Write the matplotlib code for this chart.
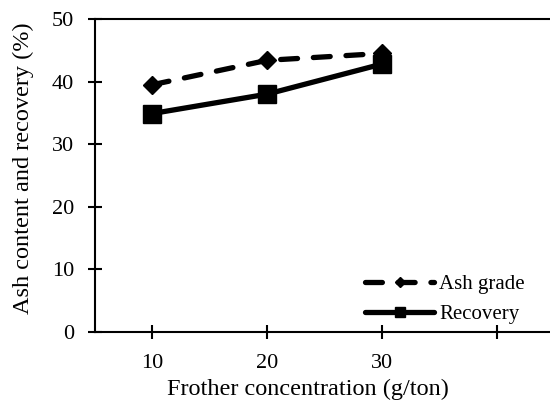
import matplotlib.pyplot as plt

conc = [10, 20, 30]
ash_grade = [39.5, 43.4, 44.5]
recovery = [34.9, 38.0, 42.8]
x_ticks = [10, 20, 30, 40]
x_labels = ["10", "20", "30", ""]
y_ticks = [0, 10, 20, 30, 40, 50]

plt.rcParams["font.family"] = ["Liberation Serif", "DejaVu Serif"]

fig = plt.figure(figsize=(5.5, 4.07), dpi=100)
ax = fig.add_axes([95 / 550, 1 - 332 / 407, 459 / 550, 313 / 407])

ax.plot(conc, ash_grade, color="black", lw=3.8, ls=(0, (3.2, 3.0)),
        dash_capstyle="round", marker="D", ms=9, label="Ash grade")
ax.plot(conc, recovery, color="black", lw=3.8, solid_capstyle="round",
        marker="s", ms=13.5, label="Recovery")

ax.set_xlim(5, 45)
ax.set_ylim(0, 50)
ax.set_xticks(x_ticks)
ax.set_xticklabels(x_labels)
ax.set_yticks(y_ticks)
for s in ax.spines.values():
    s.set_linewidth(1.5)
ax.tick_params(direction="inout", length=10, width=1.5, labelsize=16)
ax.tick_params(axis="x", pad=11)
ax.tick_params(axis="y", pad=10)

ax.set_xlabel("Frother concentration (g/ton)", fontsize=17.5)
ax.set_ylabel("Ash content and recovery (%)", fontsize=17.5)
ax.xaxis.set_label_coords(0.464, -0.148)
ax.yaxis.set_label_coords(-0.133, 0.522)

ax.legend(loc="center left", bbox_to_anchor=(355 / 550, 1 - 299.5 / 407),
          bbox_transform=fig.transFigure, frameon=False, borderpad=0,
          handlelength=3.3, handletextpad=0.25, labelspacing=0.5,
          markerscale=0.55, fontsize=15)

fig.savefig("out.png", dpi=100)
